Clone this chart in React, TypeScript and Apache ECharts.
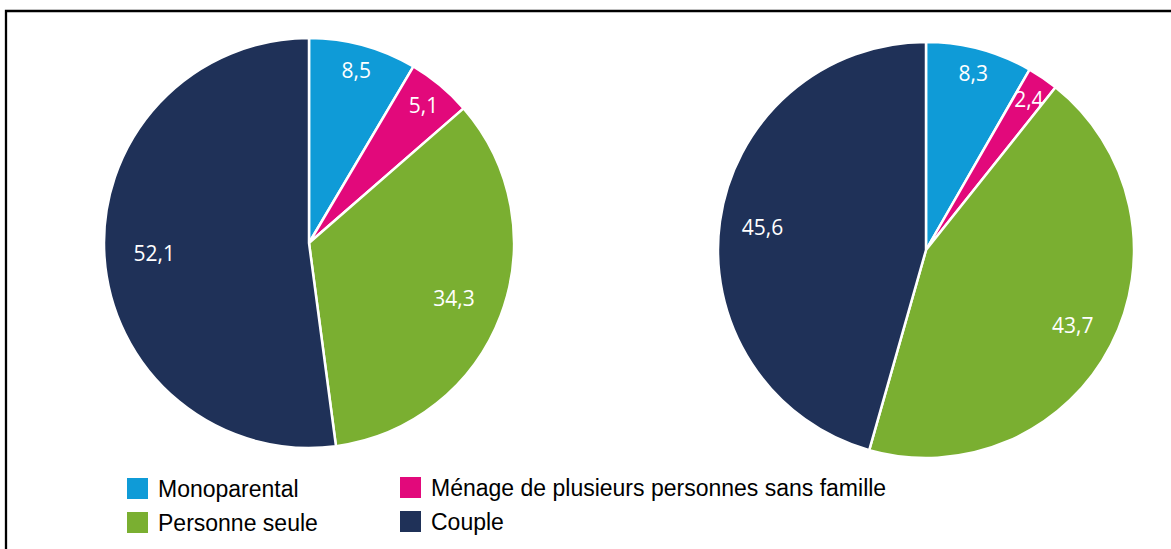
import React, { useEffect, useRef } from "react";
import * as echarts from "echarts";

const categories = ["Monoparental", "Ménage de plusieurs personnes sans famille", "Personne seule", "Couple"];
const colors = ["#0F9BD7", "#E2097B", "#7AAF31", "#1F3158"];
const valuesLeft = [8.5, 5.1, 34.3, 52.1];
const valuesRight = [8.3, 2.4, 43.7, 45.6];
const smallLabelCats = ["Monoparental", "Ménage de plusieurs personnes sans famille"];
const legendCol1 = ["Monoparental", "Personne seule"];
const legendCol2 = ["Ménage de plusieurs personnes sans famille", "Couple"];

const fmt = (v: number) => v.toFixed(1).replace(".", ",");

function mainSeries(values: number[], center: number[], r: number) {
  return {
    type: "pie",
    center,
    radius: [0, r],
    startAngle: 90,
    clockwise: true,
    label: { show: false },
    labelLine: { show: false },
    itemStyle: { borderColor: "#fff", borderWidth: 2.5 },
    data: categories.map((c, i) => ({ name: c, value: values[i], itemStyle: { color: colors[i] } })),
  };
}

function labelSeries(values: number[], center: number[], radius: number[], small: boolean) {
  return {
    type: "pie",
    center,
    radius,
    startAngle: 90,
    clockwise: true,
    silent: true,
    legendHoverLink: false,
    labelLine: { show: false },
    itemStyle: { color: "rgba(0,0,0,0)", borderWidth: 0 },
    label: {
      position: "inside",
      color: "#fff",
      fontFamily: "Open Sans",
      fontSize: 21,
      formatter: (p: any) => fmt(p.value),
    },
    data: categories.map((c, i) => ({
      name: c,
      value: values[i],
      label: { show: smallLabelCats.includes(c) === small },
    })),
  };
}

export default function App() {
  const ref = useRef<HTMLDivElement>(null);
  useEffect(() => {
    if (!ref.current) return;
    const chart = echarts.init(ref.current, null, { renderer: "svg" });
    const c1 = [309, 243];
    const c2 = [926, 250];
    const legendCommon = {
      orient: "vertical",
      icon: "rect",
      padding: 0,
      itemWidth: 23,
      itemHeight: 23,
      itemGap: 9,
      selectedMode: false,
      textStyle: { fontSize: 23, fontFamily: "Liberation Sans, Arial", color: "#000", padding: [0, 0, 0, 4] },
    };
    chart.setOption({
      animation: false,
      backgroundColor: "#fff",
      legend: [
        { ...legendCommon, left: 125, top: 476, data: legendCol1 },
        { ...legendCommon, left: 398, top: 475, data: legendCol2 },
      ],
      graphic: [
        {
          type: "rect",
          shape: { x: 6, y: 11, width: 1300, height: 700 },
          style: { fill: "none", stroke: "#000", lineWidth: 2.3 },
          silent: true,
        },
      ],
      series: [
        mainSeries(valuesLeft, c1, 205),
        mainSeries(valuesRight, c2, 208),
        labelSeries(valuesLeft, c1, [147, 205], true),
        labelSeries(valuesLeft, c1, [99, 205], false),
        labelSeries(valuesRight, c2, [152, 208], true),
        labelSeries(valuesRight, c2, [116, 208], false),
      ],
    });
    return () => chart.dispose();
  }, []);
  return <div ref={ref} style={{ position: "absolute", left: 0, top: 0, width: 1171, height: 549 }} />;
}
